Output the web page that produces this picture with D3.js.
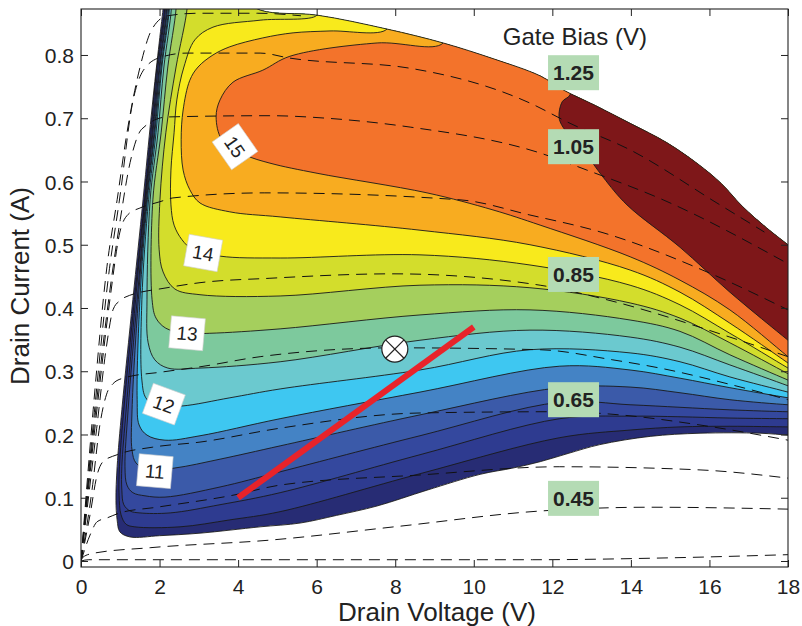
<!DOCTYPE html>
<html>
<head>
<meta charset="utf-8">
<script src="https://cdn.jsdelivr.net/npm/d3@7"></script>
<style>
  body { margin: 0; background: #fff; }
  text { font-family: "Liberation Sans", Arial, Helvetica, sans-serif; fill: #222; }
</style>
</head>
<body>
<script>
// ---- data (drain voltage V, drain current A) ----
const xTicks = [0, 2, 4, 6, 8, 10, 12, 14, 16, 18];
const yTicks = [0, 0.1, 0.2, 0.3, 0.4, 0.5, 0.6, 0.7, 0.8];

// outer boundary of the gain map
const envelope = [
  [2.14,0.90],[3.8,0.90],[4.56,0.871],[6.01,0.863],[7.79,0.841],[9.22,0.819],[10.5,0.794],[11.69,0.767],
  [12.27,0.745],[13.1,0.720],[13.98,0.692],[14.9,0.662],[15.68,0.629],[16.3,0.597],[16.85,0.560],[17.45,0.527],
  [18,0.500],[18.3,0.485],[18.3,0.198],[18,0.199],[17.29,0.202],[15.76,0.202],[14.49,0.197],[13.21,0.184],
  [12.4,0.170],[11.69,0.157],[11.0,0.147],[10.16,0.137],[8.81,0.112],[7.54,0.087],[6.5,0.072],[5.58,0.060],[4.56,0.054],
  [3.03,0.044],[2.0,0.040],[1.25,0.038],[0.99,0.046],[0.92,0.065],[0.89,0.096],[0.92,0.149],[1.04,0.239],
  [1.32,0.413],[1.58,0.571],[1.83,0.729],[2.09,0.873]
];

// gain contour levels (dB) and their lines
const levels = [9.5, 10, 10.5, 11, 11.5, 12, 12.5, 13, 13.5, 14, 14.5, 15, 15.5];
const g095 = [[2.13,0.90],[2.13,0.873],[1.93,0.781],[1.78,0.677],[1.62,0.571],[1.36,0.413],[1.09,0.239],[0.98,0.149],[0.97,0.104],[1.02,0.073],[1.15,0.058],[1.37,0.054],[2.52,0.054],[3.79,0.065],[5.07,0.078],[8.63,0.138],[12.19,0.195],[13.98,0.207],[15.25,0.212],[16.52,0.213],[18,0.212],[18.3,0.212]];
const g100 = [[2.15,0.90],[2.15,0.873],[1.96,0.781],[1.81,0.677],[1.63,0.571],[1.39,0.413],[1.15,0.239],[1.04,0.149],[1.04,0.112],[1.09,0.089],[1.25,0.079],[1.50,0.076],[2.27,0.076],[3.54,0.089],[5.07,0.108],[8.63,0.168],[12.19,0.225],[13.98,0.229],[15.25,0.228],[16.52,0.226],[18,0.225],[18.3,0.225]];
const g105 = [[2.18,0.90],[2.18,0.873],[1.99,0.781],[1.83,0.677],[1.65,0.571],[1.43,0.413],[1.20,0.239],[1.12,0.149],[1.17,0.120],[1.32,0.108],[1.63,0.103],[2.14,0.101],[3.54,0.117],[5.07,0.141],[8.63,0.198],[12.19,0.251],[13.98,0.247],[15.25,0.243],[16.52,0.239],[18,0.236],[18.3,0.236]];
const g110 = [[2.20,0.90],[2.20,0.873],[2.01,0.781],[1.86,0.677],[1.67,0.571],[1.46,0.413],[1.30,0.239],[1.30,0.175],[1.40,0.155],[1.71,0.144],[2.39,0.147],[3.54,0.161],[5.07,0.182],[8.63,0.231],[12.19,0.274],[13.98,0.275],[15.25,0.266],[16.52,0.255],[18,0.247],[18.3,0.246]];
const g115 = [[2.23,0.90],[2.23,0.873],[2.04,0.781],[1.88,0.677],[1.69,0.571],[1.50,0.413],[1.43,0.255],[1.48,0.215],[1.68,0.199],[2.14,0.191],[3.03,0.198],[5.07,0.225],[8.63,0.267],[12.19,0.308],[13.98,0.302],[15.25,0.289],[16.52,0.274],[18,0.258],[18.3,0.255]];
const g120 = [[2.25,0.90],[2.25,0.873],[2.06,0.781],[1.91,0.677],[1.72,0.571],[1.55,0.413],[1.55,0.286],[1.65,0.258],[1.91,0.245],[2.57,0.245],[3.79,0.258],[5.07,0.272],[8.63,0.302],[11.43,0.334],[13.98,0.329],[15.25,0.315],[16.52,0.291],[18,0.267],[18.3,0.262]];
const g125 = [[2.30,0.90],[2.30,0.873],[2.11,0.781],[1.96,0.677],[1.76,0.571],[1.68,0.413],[1.71,0.345],[1.88,0.318],[2.21,0.305],[3.03,0.305],[5.07,0.315],[8.63,0.349],[11.43,0.365],[13.98,0.354],[15.25,0.338],[16.52,0.310],[18,0.277],[18.3,0.270]];
const g130 = [[2.42,0.90],[2.42,0.873],[2.21,0.781],[2.04,0.677],[1.83,0.571],[1.81,0.413],[1.91,0.384],[2.16,0.368],[2.65,0.360],[3.28,0.360],[5.07,0.367],[8.63,0.389],[11.43,0.397],[13.98,0.381],[15.25,0.363],[16.52,0.326],[18,0.286],[18.3,0.278]];
const g135 = [[2.70,0.90],[2.70,0.873],[2.42,0.781],[2.16,0.677],[2.01,0.571],[1.99,0.492],[2.09,0.457],[2.39,0.430],[3.03,0.421],[5.07,0.419],[8.63,0.436],[11.43,0.432],[13.98,0.408],[15.25,0.384],[16.52,0.345],[18,0.296],[18.3,0.286]];
const g140 = [[6.01,0.88],[6.01,0.863],[4.56,0.855],[3.36,0.844],[2.90,0.824],[2.62,0.781],[2.44,0.729],[2.37,0.677],[2.29,0.618],[2.29,0.563],[2.37,0.531],[2.57,0.508],[2.83,0.493],[3.54,0.482],[5.07,0.479],[8.63,0.484],[11.43,0.468],[13.98,0.436],[15.25,0.405],[16.52,0.360],[18,0.305],[18.3,0.294]];
const g145 = [[7.79,0.88],[7.79,0.841],[6.34,0.838],[5.40,0.835],[4.63,0.827],[3.79,0.813],[3.36,0.800],[2.98,0.781],[2.77,0.760],[2.60,0.713],[2.55,0.666],[2.60,0.618],[2.77,0.587],[3.03,0.566],[3.79,0.552],[5.07,0.544],[8.63,0.523],[11.43,0.500],[13.98,0.460],[15.25,0.425],[16.52,0.376],[18,0.313],[18.3,0.300]];
const g150 = [[9.22,0.88],[9.22,0.819],[7.54,0.819],[5.32,0.798],[4.63,0.776],[3.87,0.757],[3.54,0.729],[3.44,0.702],[3.59,0.666],[4.18,0.642],[4.81,0.629],[6.01,0.613],[8.81,0.582],[10.49,0.555],[11.69,0.531],[13.98,0.481],[15.25,0.444],[16.52,0.397],[18,0.323],[18.3,0.308]];
const g155 = [[12.45,0.77],[12.45,0.737],[12.25,0.726],[12.17,0.702],[12.27,0.686],[12.78,0.650],[13.29,0.607],[13.90,0.563],[15.25,0.496],[16.52,0.425],[18,0.349],[18.3,0.334]];
const gainLines = [g095, g100, g105, g110, g115, g120, g125, g130, g135, g140, g145, g150, g155];
const bandColors = ["#272c74","#2e3b90","#34489e","#3b5aa9","#4483c5","#3ec7f1","#6bc9cf","#7dc99d",
                    "#a5cf5d","#d3dd2c","#f8ea1c","#f8ac20","#f3732b","#7e1719"];

// contour labels: text, V, A, rotation
const gainLabels = ["11", "12", "13", "14", "15"];
const gainLabelPos = [[1.88,0.142],[2.11,0.248],[2.70,0.360],[3.11,0.487],[3.92,0.655]];
const gainLabelRot = [5, 20, 5, 10, 55];

// I-V curves for each gate bias
const bias125 = [[0,0],[0.31,0.239],[0.66,0.465],[0.92,0.571],[1.17,0.677],[1.50,0.780],[1.80,0.840],[2.20,0.862],[3.0,0.866],[4.5,0.866],[5.6,0.862]];
const bias115 = [[0,0],[0.34,0.235],[0.70,0.450],[1.0,0.580],[1.30,0.720],[1.58,0.775],[2.01,0.796],[2.70,0.803],[4.56,0.803],[5.32,0.795],[8.38,0.779],[11.43,0.724],[12.45,0.692],[13.98,0.650],[16.19,0.566],[17.4,0.52]];
const bias105 = [[0,0],[0.36,0.230],[0.74,0.430],[1.0,0.540],[1.25,0.630],[1.55,0.683],[2.19,0.702],[4.81,0.704],[6.26,0.700],[8.38,0.686],[11.69,0.645],[12.88,0.618],[14.82,0.571],[18,0.470]];
const bias095 = [[0,0],[0.38,0.225],[0.75,0.420],[0.99,0.520],[1.2,0.548],[1.5,0.558],[2.01,0.568],[2.34,0.574],[4.68,0.582],[9.65,0.571],[11.43,0.547],[13.29,0.519],[16.01,0.455],[18,0.397]];
const bias085 = [[0,0],[0.40,0.210],[0.65,0.340],[0.82,0.398],[1.0,0.412],[1.12,0.417],[2.19,0.432],[3.03,0.440],[4.81,0.447],[7.94,0.454],[11.69,0.436],[13.39,0.413],[16.52,0.354],[18,0.323]];
const bias075 = [[0,0],[0.28,0.112],[0.48,0.215],[0.69,0.270],[0.81,0.280],[1.07,0.289],[2.09,0.299],[3.03,0.307],[4.56,0.323],[7.99,0.337],[11.69,0.334],[13.54,0.318],[14.74,0.305],[16.60,0.278],[18,0.255]];
const bias065 = [[0,0],[0.23,0.073],[0.41,0.136],[0.56,0.157],[0.92,0.168],[1.83,0.180],[3.03,0.188],[5.07,0.210],[8.63,0.234],[12.19,0.236],[13.72,0.231],[15.76,0.215],[18,0.191]];
const bias055 = [[0,0],[0.23,0.041],[0.41,0.062],[0.66,0.068],[0.99,0.076],[1.93,0.085],[3.87,0.104],[5.07,0.120],[8.63,0.136],[12.19,0.149],[15.76,0.144],[18,0.131]];
const bias045 = [[0,0],[0.05,0.006],[0.3,0.012],[1.76,0.021],[4.81,0.033],[8.12,0.055],[11.69,0.079],[14.49,0.085],[18,0.082]];
const bias035 = [[0,0],[0.2,0.002],[11.5,0.002],[15,0.005],[18,0.010]];
const biasCurves = [bias125, bias115, bias105, bias095, bias085, bias075, bias065, bias055, bias045, bias035];

const biasLabels = ["1.25", "1.05", "0.85", "0.65", "0.45"];
const biasLabelV = 12.54;
const biasLabelA = [0.772, 0.655, 0.453, 0.255, 0.099];

// load line and bias point
const loadLine = [[4, 0.1], [10, 0.37]];
const biasPoint = [7.99, 0.335];

// ---- drawing ----
const width = 802, height = 626;
const svg = d3.select("body").append("svg")
    .attr("width", width)
    .attr("height", height);

const x = d3.scaleLinear().domain([0, 18]).range([81, 788]);
const y = d3.scaleLinear().domain([-0.0095, 0.8727]).range([567, 9]);

const smooth = d3.line()
    .x(d => x(d[0])).y(d => y(d[1]))
    .curve(d3.curveCatmullRom.alpha(0.5));
const closed = d3.line()
    .x(d => x(d[0])).y(d => y(d[1]))
    .curve(d3.curveCatmullRomClosed.alpha(0.5));
const ivLine = d3.line()
    .x(d => x(d[0])).y(d => y(d[1]))
    .curve(d3.curveMonotoneX);

// region >= level: contour line closed round the upper right
function bandPath(pts) {
    const first = pts[0], last = pts[pts.length - 1];
    const extra = [[19, last[1]], [19, 1.0], [first[0], 1.0]];
    return smooth(pts) + extra.map(p => "L" + x(p[0]) + "," + y(p[1])).join("") + "Z";
}

const defs = svg.append("defs");
defs.append("clipPath").attr("id", "plotClip")
    .append("rect")
    .attr("x", x(0)).attr("y", y(0.8727))
    .attr("width", x(18) - x(0)).attr("height", y(-0.0095) - y(0.8727));
defs.append("clipPath").attr("id", "envClip")
    .append("path").attr("d", closed(envelope));

const plot = svg.append("g").attr("clip-path", "url(#plotClip)");
const map = plot.append("g").attr("clip-path", "url(#envClip)");

map.append("path")
    .attr("d", closed(envelope))
    .attr("fill", bandColors[0]);

map.selectAll("path.band")
    .data(gainLines)
    .join("path")
    .attr("class", "band")
    .attr("d", d => bandPath(d))
    .attr("fill", (d, i) => bandColors[i + 1]);

map.selectAll("path.contour")
    .data(gainLines)
    .join("path")
    .attr("class", "contour")
    .attr("d", d => smooth(d))
    .attr("fill", "none")
    .attr("stroke", "#1a1a1a")
    .attr("stroke-width", 0.9);

plot.append("path")
    .attr("d", closed(envelope))
    .attr("fill", "none")
    .attr("stroke", "#1a1a1a")
    .attr("stroke-width", 0.9);

// gate bias I-V curves
plot.selectAll("path.iv")
    .data(biasCurves)
    .join("path")
    .attr("class", "iv")
    .attr("d", d => ivLine(d))
    .attr("fill", "none")
    .attr("stroke", "#111")
    .attr("stroke-width", 1)
    .attr("stroke-dasharray", "11,7");

// contour labels
const gl = plot.selectAll("g.glabel")
    .data(gainLabels)
    .join("g")
    .attr("class", "glabel")
    .attr("transform", (d, i) => "translate(" + x(gainLabelPos[i][0]) + "," + y(gainLabelPos[i][1]) + ") rotate(" + gainLabelRot[i] + ")");
gl.append("rect")
    .attr("x", -17).attr("y", -16).attr("width", 34).attr("height", 32)
    .attr("fill", "#fff")
    .attr("stroke", "#d0d0d0")
    .attr("stroke-width", 0.6);
gl.append("text")
    .attr("text-anchor", "middle")
    .attr("dy", "0.36em")
    .attr("font-size", 19)
    .text(d => d);

// load line
plot.append("line")
    .attr("x1", x(loadLine[0][0])).attr("y1", y(loadLine[0][1]))
    .attr("x2", x(loadLine[1][0])).attr("y2", y(loadLine[1][1]))
    .attr("stroke", "#e8232a")
    .attr("stroke-width", 6);

// bias point marker
const bp = plot.append("g")
    .attr("transform", "translate(" + x(biasPoint[0]) + "," + y(biasPoint[1]) + ")");
bp.append("circle").attr("r", 13).attr("fill", "#fff").attr("stroke", "#222").attr("stroke-width", 1.2);
const k = 13 * Math.SQRT1_2;
bp.append("line").attr("x1", -k).attr("y1", -k).attr("x2", k).attr("y2", k).attr("stroke", "#222").attr("stroke-width", 1.2);
bp.append("line").attr("x1", -k).attr("y1", k).attr("x2", k).attr("y2", -k).attr("stroke", "#222").attr("stroke-width", 1.2);

// gate bias labels
const bl = svg.selectAll("g.blabel")
    .data(biasLabels)
    .join("g")
    .attr("class", "blabel")
    .attr("transform", (d, i) => "translate(" + x(biasLabelV) + "," + y(biasLabelA[i]) + ")");
bl.append("rect")
    .attr("x", -25.5).attr("y", -17.5).attr("width", 51).attr("height", 35)
    .attr("fill", "#b4dbb4");
bl.append("text")
    .attr("text-anchor", "middle")
    .attr("dy", "0.36em")
    .attr("font-size", 21)
    .attr("font-weight", "bold")
    .text(d => d);

svg.append("text")
    .attr("x", x(10.74)).attr("y", y(0.816))
    .attr("font-size", 24)
    .text("Gate Bias (V)");

// axes: ticks inside on all four sides
const bottom = svg.append("g")
    .attr("transform", "translate(0," + y(-0.0095) + ")")
    .call(d3.axisBottom(x).tickValues(xTicks).tickSizeInner(-7).tickSizeOuter(0).tickPadding(12).tickFormat(d3.format("d")));
const left = svg.append("g")
    .attr("transform", "translate(" + x(0) + ",0)")
    .call(d3.axisLeft(y).tickValues(yTicks).tickSizeInner(-7).tickSizeOuter(0).tickPadding(7).tickFormat(d3.format("~g")));
svg.append("g")
    .attr("transform", "translate(0," + y(0.8727) + ")")
    .call(d3.axisTop(x).tickValues(xTicks).tickSizeInner(-7).tickSizeOuter(0).tickFormat(""));
svg.append("g")
    .attr("transform", "translate(" + x(18) + ",0)")
    .call(d3.axisRight(y).tickValues(yTicks).tickSizeInner(-7).tickSizeOuter(0).tickFormat(""));

svg.selectAll(".domain").remove();
svg.selectAll(".tick line").attr("stroke", "#222");
svg.selectAll(".tick text").attr("font-size", 21).attr("fill", "#222")
    .style("font-family", "'Liberation Sans', Arial, sans-serif");
bottom.selectAll(".tick text").attr("dy", "0.71em");
left.selectAll(".tick text").attr("dy", "0.36em");

svg.append("rect")
    .attr("x", x(0)).attr("y", y(0.8727))
    .attr("width", x(18) - x(0)).attr("height", y(-0.0095) - y(0.8727))
    .attr("fill", "none")
    .attr("stroke", "#222")
    .attr("stroke-width", 1.1);

svg.append("text")
    .attr("x", 437).attr("y", 621)
    .attr("text-anchor", "middle")
    .attr("font-size", 26)
    .text("Drain Voltage (V)");

svg.append("text")
    .attr("transform", "translate(29,286) rotate(-90)")
    .attr("text-anchor", "middle")
    .attr("font-size", 26)
    .text("Drain Current (A)");
</script>
</body>
</html>
